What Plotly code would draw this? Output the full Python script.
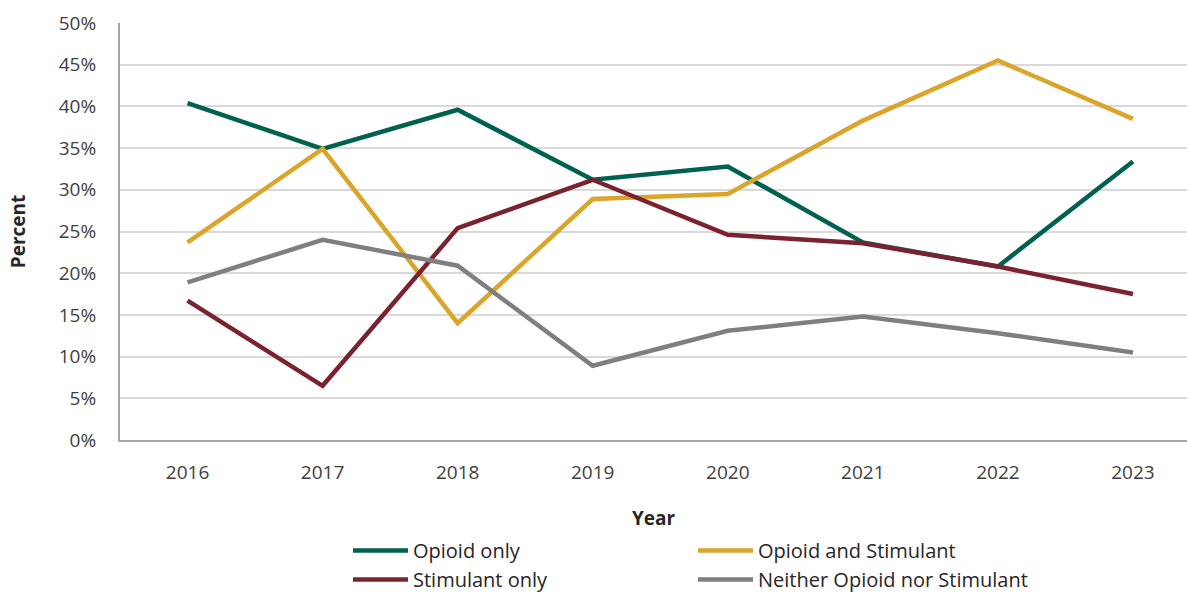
import plotly.graph_objects as go

# Share of cases by substance group, per year
years = ["2016", "2017", "2018", "2019", "2020", "2021", "2022", "2023"]
opioid_only = [40.4, 34.9, 39.6, 31.2, 32.8, 23.7, 20.8, 33.4]
opioid_and_stimulant = [23.7, 34.9, 14.0, 28.9, 29.5, 38.3, 45.5, 38.5]
stimulant_only = [16.7, 6.5, 25.4, 31.2, 24.6, 23.6, 20.8, 17.5]
neither = [18.9, 24.0, 20.9, 8.9, 13.1, 14.8, 12.8, 10.5]

y_ticks = [0, 5, 10, 15, 20, 25, 30, 35, 40, 45, 50]
y_tick_labels = [f"{v}%" for v in y_ticks]

FONT = "Open Sans, Liberation Sans, sans-serif"
TEXT = "#404040"

W, H = 1187, 595
M_L, M_R, M_T, M_B = 120, 0, 23, 155
PLOT_W = W - M_L - M_R
PLOT_H = H - M_T - M_B


def px_to_paper_x(px):
    return (px - M_L) / PLOT_W


def px_to_paper_y(py):
    return (H - M_B - py) / PLOT_H


series = [
    ("Opioid only", opioid_only, "#00614F", "legend"),
    ("Opioid and Stimulant", opioid_and_stimulant, "#DAA52A", "legend2"),
    ("Stimulant only", stimulant_only, "#7B2230", "legend"),
    ("Neither Opioid nor Stimulant", neither, "#7F7F7F", "legend2"),
]

fig = go.Figure()
for name, vals, color, leg in series:
    fig.add_trace(go.Scatter(
        x=years, y=vals, name=name, mode="lines",
        line=dict(color=color, width=4.5),
        legend=leg,
    ))

# two legend columns below the plot; margins stay fixed so the plot area does not move
legend_common = dict(
    orientation="v",
    xanchor="left", yanchor="top",
    font=dict(family=FONT, size=20, color="#262626"),
    bgcolor="rgba(0,0,0,0)",
    itemwidth=55,
    tracegroupgap=0,
    traceorder="normal",
)

fig.update_layout(
    width=W, height=H,
    margin=dict(l=M_L, r=M_R, t=M_T, b=M_B, autoexpand=False),
    paper_bgcolor="white", plot_bgcolor="white",
    font=dict(family=FONT, size=19, color=TEXT),
    showlegend=True,
    legend=dict(x=px_to_paper_x(348), y=px_to_paper_y(531), **legend_common),
    legend2=dict(x=px_to_paper_x(693), y=px_to_paper_y(531), **legend_common),
    xaxis=dict(
        type="category",
        range=[-0.5, 7.4],
        showgrid=False,
        showline=True, linecolor="#A6A6A6", linewidth=2,
        ticks="", ticklabelstandoff=14,
        tickfont=dict(family=FONT, size=19, color=TEXT),
        title=dict(text="<b>Year</b>", font=dict(family=FONT, size=19, color="#262626"), standoff=28),
    ),
    yaxis=dict(
        range=[0, 50],
        tickvals=y_ticks, ticktext=y_tick_labels,
        showgrid=True, gridcolor="#D9D9D9", gridwidth=2,
        zeroline=False,
        showline=True, linecolor="#A6A6A6", linewidth=2,
        ticks="", ticklabelstandoff=18,
        tickfont=dict(family=FONT, size=19, color=TEXT),
        title=dict(text="<b>Percent</b>", font=dict(family=FONT, size=19, color="#262626"), standoff=28),
    ),
)

fig.write_html("out.html")
